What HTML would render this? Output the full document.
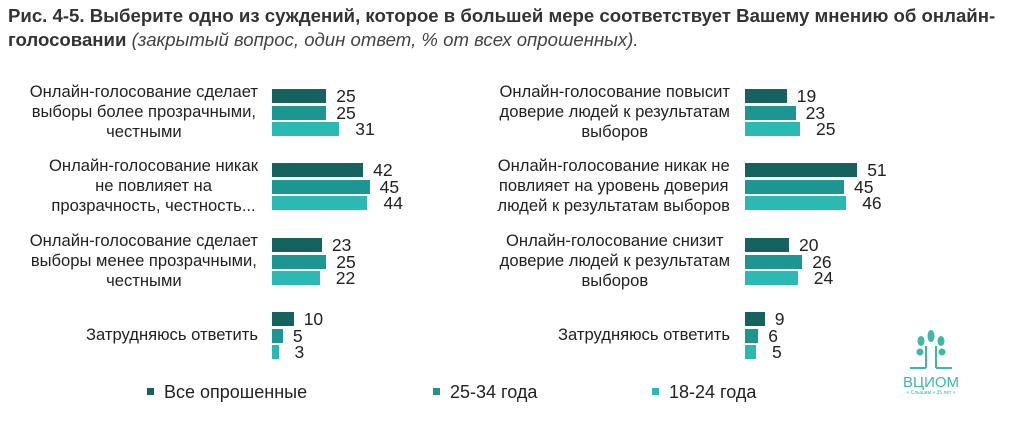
<!DOCTYPE html><html><head><meta charset="utf-8"><style>
body{margin:0;width:1009px;height:423px;background:#fff;font-family:"Liberation Sans",sans-serif;position:relative;overflow:hidden;color:#222}
.t{position:absolute;left:8px;top:4px;font-size:18.6px;line-height:24px;font-weight:bold;color:#333;width:1005px;white-space:nowrap}
.t i{font-weight:normal;color:#444}
.l{position:absolute;text-align:center;font-size:16.6px;line-height:20px;color:#222;white-space:nowrap}
.b{position:absolute;height:14px}
.v{position:absolute;font-size:17.5px;line-height:17px;color:#222}
.c1{background:#17625f}.c2{background:#1d9590}.c3{background:#2bbab3}
.lg{position:absolute;top:382px;font-size:18px;color:#222}
.lg span{display:inline-block;width:7px;height:7px;margin-right:10px;vertical-align:3px}
</style></head><body>
<div class="t">Рис. 4-5. Выберите одно из суждений, которое в большей мере соответствует Вашему мнению об онлайн-<br>голосовании <i>(закрытый вопрос, один ответ, % от всех опрошенных).</i></div>
<div id="c"></div>
<div class="lg" style="left:147px"><span class="c1"></span>Все опрошенные</div>
<div class="lg" style="left:433px"><span class="c2"></span>25-34 года</div>
<div class="lg" style="left:652px"><span class="c3"></span>18-24 года</div>
<svg style="position:absolute;left:895px;top:328px" width="72" height="68" viewBox="0 0 72 68">
<g fill="none" stroke="#3fb8a4" stroke-width="2"><path d="M31 40V18M41 40V18M31 40H15M41 40H57"/></g>
<g fill="#3fb8a4"><ellipse cx="36" cy="8" rx="3.5" ry="6"/><ellipse cx="26" cy="13" rx="3.5" ry="5"/><ellipse cx="46" cy="13" rx="3.5" ry="5"/><ellipse cx="25" cy="24" rx="3.5" ry="3.5"/><ellipse cx="47" cy="24" rx="3.5" ry="3.5"/></g>
<text x="36" y="59" font-size="15" fill="#3fb8a4" text-anchor="middle" font-family="Liberation Sans">ВЦИОМ</text>
<text x="36" y="66" font-size="5" fill="#3fb8a4" text-anchor="middle" font-family="Liberation Sans">« Слышим » 35 лет »</text></svg>
<script>
var L=[["Онлайн-голосование сделает<br>выборы более прозрачными,<br>честными",[25,25,31],89],["Онлайн-голосование никак<br>не повлияет на<br>прозрачность, честность...",[42,45,44],163],["Онлайн-голосование сделает<br>выборы менее прозрачными,<br>честными",[23,25,22],238],["Затрудняюсь ответить",[10,5,3],312]];
var R=[["Онлайн-голосование повысит<br>доверие людей к результатам<br>выборов",[19,23,25],89],["Онлайн-голосование никак не<br>повлияет на уровень доверия<br>людей к результатам выборов",[51,45,46],163],["Онлайн-голосование снизит<br>доверие людей к результатам<br>выборов",[20,26,24],238],["Затрудняюсь ответить",[9,6,5],312]];
var h="";
function draw(D,x0,lr,s){D.forEach(function(g){var y=g[2];var n=g[0].split("<br>").length;
h+='<div class="l" style="right:'+(1009-lr)+'px;top:'+(y+23-n*10)+'px">'+g[0]+'</div>';
g[1].forEach(function(v,i){var w=v*s,yy=y+i*16.5;h+='<div class="b c'+(i+1)+'" style="left:'+x0+'px;top:'+yy+'px;width:'+w+'px"></div><div class="v" style="left:'+(x0+w+(i==2?16:10))+'px;top:'+(yy-1)+'px">'+v+'</div>';});});}
draw(L,272,258,2.17);draw(R,745,730,2.2);
document.getElementById("c").innerHTML=h;
</script></body></html>
